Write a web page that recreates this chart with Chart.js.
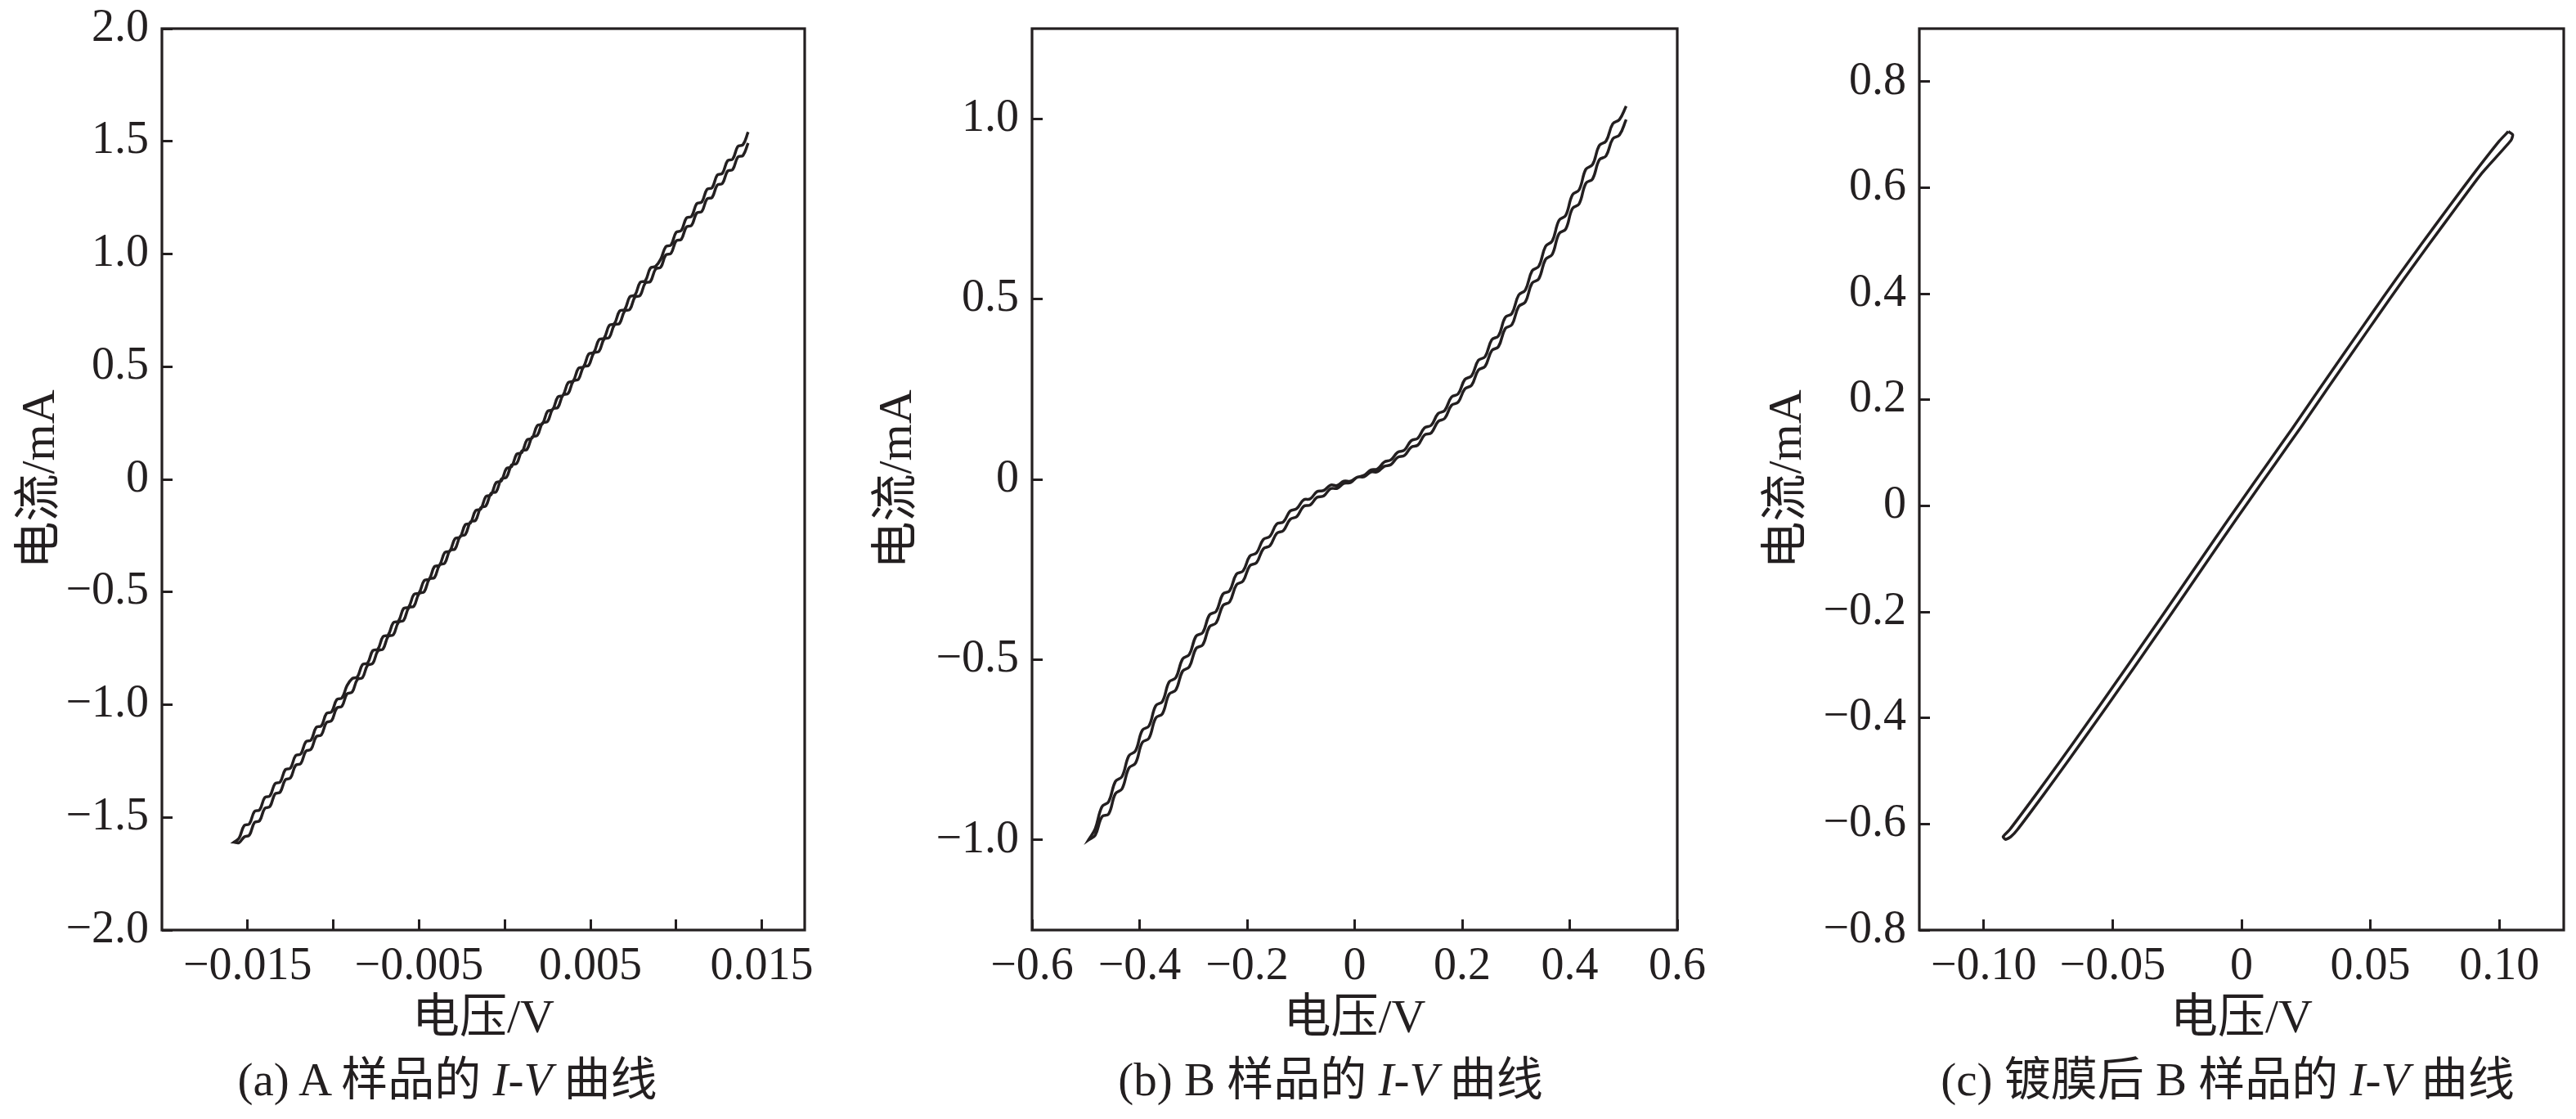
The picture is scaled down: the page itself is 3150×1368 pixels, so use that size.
<!DOCTYPE html>
<html>
<head>
<meta charset="utf-8">
<title>I-V 曲线</title>
<script src="https://cdn.jsdelivr.net/npm/chart.js@4.4.1/dist/chart.umd.min.js"></script>
<style>
  body { margin: 0; background: #fff; width: 3150px; height: 1368px; position: relative; overflow: hidden; }
  canvas { position: absolute; top: 0; }
  .cap { position: absolute; top: 1288px; font: 57px/64px "Liberation Serif", "Noto Sans CJK SC", serif; color: #231f20; white-space: nowrap; transform: translateX(-50%); }
</style>
</head>
<body>
<canvas id="chartA" width="1040" height="1368" style="left:0px"></canvas>
<canvas id="chartB" width="1050" height="1368" style="left:1060px"></canvas>
<canvas id="chartC" width="1000" height="1368" style="left:2150px"></canvas>
<div class="cap" style="left:547px">(a) A 样品的 <i>I</i>-<i>V</i> 曲线</div>
<div class="cap" style="left:1627px">(b) B 样品的 <i>I</i>-<i>V</i> 曲线</div>
<div class="cap" style="left:2724px">(c) 镀膜后 B 样品的 <i>I</i>-<i>V</i> 曲线</div>
<script>
// (a) sample A: sweep voltages (V) and current (mA) of both sweep directions
const aVolt = [
  -0.0158, -0.0155, -0.0152, -0.0149, -0.0146, -0.0143, -0.0140, -0.0137, -0.0134, -0.0131,
  -0.0128, -0.0125, -0.0122, -0.0119, -0.0116, -0.0113, -0.0110, -0.0107, -0.0104, -0.0101,
  -0.0098, -0.0095, -0.0092, -0.0089, -0.0086, -0.0083, -0.0080, -0.0077, -0.0074, -0.0071,
  -0.0068, -0.0065, -0.0062, -0.0059, -0.0056, -0.0053, -0.0050, -0.0047, -0.0044, -0.0041,
  -0.0038, -0.0035, -0.0032, -0.0029, -0.0026, -0.0023, -0.0020, -0.0017, -0.0014, -0.0011,
  -0.0008, -0.0005, -0.0002, 0.0001, 0.0004, 0.0007, 0.0010, 0.0013, 0.0016, 0.0019,
  0.0022, 0.0025, 0.0028, 0.0031, 0.0034, 0.0037, 0.0040, 0.0043, 0.0046, 0.0049,
  0.0052, 0.0055, 0.0058, 0.0061, 0.0064, 0.0067, 0.0070, 0.0073, 0.0076, 0.0079,
  0.0082, 0.0085, 0.0088, 0.0091, 0.0094, 0.0097, 0.0100, 0.0103, 0.0106, 0.0109,
  0.0112, 0.0115, 0.0118, 0.0121, 0.0124, 0.0127, 0.0130, 0.0133, 0.0136, 0.0139,
  0.0142
];
const aFwd = [
  -1.610, -1.612, -1.587, -1.579, -1.523, -1.515, -1.460, -1.452, -1.396, -1.388,
  -1.333, -1.325, -1.269, -1.261, -1.206, -1.198, -1.142, -1.134, -1.079, -1.071,
  -1.015, -1.007, -0.952, -0.944, -0.888, -0.880, -0.825, -0.817, -0.761, -0.753,
  -0.697, -0.690, -0.634, -0.626, -0.570, -0.563, -0.507, -0.499, -0.443, -0.436,
  -0.380, -0.372, -0.316, -0.309, -0.253, -0.245, -0.189, -0.182, -0.126, -0.118,
  -0.062, -0.055, 0.001, 0.009, 0.064, 0.071, 0.126, 0.133, 0.188, 0.195,
  0.250, 0.257, 0.312, 0.319, 0.374, 0.381, 0.436, 0.444, 0.499, 0.506,
  0.561, 0.568, 0.623, 0.630, 0.685, 0.692, 0.747, 0.754, 0.809, 0.816,
  0.871, 0.878, 0.933, 0.941, 0.996, 1.003, 1.058, 1.065, 1.120, 1.127,
  1.182, 1.189, 1.244, 1.251, 1.306, 1.313, 1.368, 1.375, 1.430, 1.437,
  1.492
];
const aRev = [
  -1.610, -1.592, -1.536, -1.529, -1.474, -1.467, -1.412, -1.405, -1.350, -1.343,
  -1.288, -1.281, -1.226, -1.219, -1.164, -1.157, -1.101, -1.094, -1.039, -1.032,
  -0.977, -0.970, -0.915, -0.884, -0.877, -0.822, -0.815, -0.760, -0.753, -0.698,
  -0.691, -0.636, -0.629, -0.573, -0.566, -0.511, -0.504, -0.449, -0.442, -0.387,
  -0.380, -0.325, -0.318, -0.263, -0.256, -0.201, -0.194, -0.139, -0.132, -0.076,
  -0.069, -0.014, -0.007, 0.048, 0.056, 0.112, 0.119, 0.175, 0.183, 0.239,
  0.246, 0.302, 0.310, 0.366, 0.373, 0.429, 0.437, 0.493, 0.500, 0.556,
  0.564, 0.620, 0.627, 0.683, 0.691, 0.747, 0.754, 0.810, 0.818, 0.874,
  0.881, 0.937, 0.945, 0.977, 1.033, 1.040, 1.096, 1.104, 1.160, 1.167,
  1.223, 1.231, 1.287, 1.294, 1.350, 1.358, 1.414, 1.421, 1.477, 1.485,
  1.541
];
const aXTicks = [-0.015, -0.01, -0.005, 0, 0.005, 0.01, 0.015];
const aXLabels = ['−0.015', '', '−0.005', '', '0.005', '', '0.015'];
const aYTicks = [-2, -1.5, -1, -0.5, 0, 0.5, 1, 1.5, 2];
const aYLabels = ['−2.0', '−1.5', '−1.0', '−0.5', '0', '0.5', '1.0', '1.5', '2.0'];

// (b) sample B
const bVolt = [
  -0.4950, -0.4825, -0.4700, -0.4575, -0.4450, -0.4325, -0.4200, -0.4075, -0.3950, -0.3825,
  -0.3700, -0.3575, -0.3450, -0.3325, -0.3200, -0.3075, -0.2950, -0.2825, -0.2700, -0.2575,
  -0.2450, -0.2325, -0.2200, -0.2075, -0.1950, -0.1825, -0.1700, -0.1575, -0.1450, -0.1325,
  -0.1200, -0.1075, -0.0950, -0.0825, -0.0700, -0.0575, -0.0450, -0.0325, -0.0200, -0.0075,
  0.0050, 0.0175, 0.0300, 0.0425, 0.0550, 0.0675, 0.0800, 0.0925, 0.1050, 0.1175,
  0.1300, 0.1425, 0.1550, 0.1675, 0.1800, 0.1925, 0.2050, 0.2175, 0.2300, 0.2425,
  0.2550, 0.2675, 0.2800, 0.2925, 0.3050, 0.3175, 0.3300, 0.3425, 0.3550, 0.3675,
  0.3800, 0.3925, 0.4050, 0.4175, 0.4300, 0.4425, 0.4550, 0.4675, 0.4800, 0.4925,
  0.5050
];
const bUp = [
  -1.000, -0.969, -0.908, -0.894, -0.838, -0.824, -0.767, -0.753, -0.696, -0.684,
  -0.628, -0.616, -0.562, -0.550, -0.498, -0.486, -0.435, -0.425, -0.376, -0.366,
  -0.318, -0.309, -0.263, -0.254, -0.213, -0.204, -0.167, -0.158, -0.124, -0.118,
  -0.088, -0.081, -0.057, -0.054, -0.034, -0.031, -0.016, -0.017, -0.005, -0.005,
  0.006, 0.011, 0.026, 0.029, 0.048, 0.054, 0.075, 0.081, 0.107, 0.114,
  0.143, 0.150, 0.182, 0.191, 0.228, 0.237, 0.277, 0.287, 0.330, 0.340,
  0.387, 0.398, 0.449, 0.460, 0.511, 0.525, 0.578, 0.591, 0.646, 0.661,
  0.718, 0.732, 0.789, 0.803, 0.860, 0.873, 0.926, 0.938, 0.986, 0.998,
  1.035
];
const bDn = [
  -1.000, -0.987, -0.936, -0.928, -0.872, -0.858, -0.801, -0.787, -0.730, -0.718,
  -0.662, -0.650, -0.596, -0.584, -0.532, -0.520, -0.469, -0.459, -0.409, -0.398,
  -0.350, -0.340, -0.293, -0.282, -0.240, -0.231, -0.193, -0.184, -0.150, -0.142,
  -0.111, -0.103, -0.075, -0.071, -0.050, -0.046, -0.026, -0.025, -0.011, -0.009,
  0.006, 0.007, 0.020, 0.021, 0.036, 0.041, 0.061, 0.066, 0.089, 0.095,
  0.123, 0.129, 0.160, 0.169, 0.205, 0.214, 0.251, 0.261, 0.303, 0.313,
  0.357, 0.368, 0.418, 0.429, 0.479, 0.492, 0.544, 0.556, 0.610, 0.624,
  0.681, 0.694, 0.751, 0.764, 0.821, 0.833, 0.886, 0.897, 0.944, 0.955,
  0.998
];
const bXTicks = [-0.6, -0.4, -0.2, 0, 0.2, 0.4, 0.6];
const bXLabels = ['−0.6', '−0.4', '−0.2', '0', '0.2', '0.4', '0.6'];
const bYTicks = [-1, -0.5, 0, 0.5, 1];
const bYLabels = ['−1.0', '−0.5', '0', '0.5', '1.0'];

// (c) sample B after coating
const cUpV = [0.1035, 0.100, 0.090, 0.080, 0.070, 0.060, 0.050, 0.040, 0.030, 0.020, 0.010,
  0.000, -0.010, -0.020, -0.030, -0.040, -0.050, -0.060, -0.070, -0.080, -0.090, -0.0925];
const cUpI = [0.706, 0.688, 0.626, 0.561, 0.495, 0.428, 0.359, 0.289, 0.219, 0.148, 0.079,
  0.010, -0.060, -0.131, -0.202, -0.272, -0.342, -0.411, -0.479, -0.546, -0.611, -0.624];
const cDnV = [-0.0915, -0.0895, -0.087, -0.077, -0.067, -0.057, -0.047, -0.037, -0.027, -0.017,
  -0.007, 0.003, 0.013, 0.023, 0.033, 0.043, 0.053, 0.063, 0.073, 0.083, 0.093, 0.1045, 0.1052];
const cDnI = [-0.629, -0.624, -0.611, -0.546, -0.479, -0.411, -0.342, -0.272, -0.202, -0.131,
  -0.060, 0.010, 0.079, 0.148, 0.219, 0.289, 0.359, 0.428, 0.495, 0.561, 0.626, 0.689, 0.700];
const cXTicks = [-0.1, -0.05, 0, 0.05, 0.1];
const cXLabels = ['−0.10', '−0.05', '0', '0.05', '0.10'];
const cYTicks = [-0.8, -0.6, -0.4, -0.2, 0, 0.2, 0.4, 0.6, 0.8];
const cYLabels = ['−0.8', '−0.6', '−0.4', '−0.2', '0', '0.2', '0.4', '0.6', '0.8'];

const INK = '#231f20';
const TICK_FONT = { family: '"Liberation Serif", serif', size: 56 };
const TITLE_FONT = { family: '"Liberation Serif", "Noto Sans CJK SC", serif', size: 58 };

const framePlugin = {
  id: 'frame',
  afterDatasetsDraw(chart) {
    const a = chart.chartArea;
    const ctx = chart.ctx;
    ctx.save();
    ctx.strokeStyle = INK;
    ctx.lineWidth = 3.2;
    ctx.strokeRect(a.left, a.top, a.right - a.left, a.bottom - a.top);
    ctx.restore();
  }
};

function axis(pos, min, max, ticks, labels, title, size) {
  return {
    type: 'linear',
    position: pos,
    min: min,
    max: max,
    afterBuildTicks: s => { s.ticks = ticks.map(v => ({ value: v })); },
    afterFit: s => {
      if (pos === 'left') s.width = size; else s.height = size;
      // keep the plot box where the layout padding puts it
      s.paddingTop = 0; s.paddingBottom = 0; s.paddingLeft = 0; s.paddingRight = 0;
    },
    ticks: {
      callback: (v, i) => labels[i],
      font: TICK_FONT,
      color: INK,
      padding: pos === 'left' ? 29 : 25,
      autoSkip: false,
      maxRotation: 0
    },
    grid: { drawOnChartArea: false, drawTicks: true, tickLength: -13, tickWidth: 3, tickColor: INK, color: INK, lineWidth: 3 },
    border: { display: false },
    title: { display: true, text: title, font: TITLE_FONT, color: INK, padding: 0 }
  };
}

function loop(voltsA, currA, voltsB, currB, reverseFirst) {
  const pts = [];
  if (reverseFirst) {
    for (let k = voltsA.length - 1; k >= 0; k--) pts.push({ x: voltsA[k], y: currA[k] });
  } else {
    for (let k = 0; k < voltsA.length; k++) pts.push({ x: voltsA[k], y: currA[k] });
  }
  for (let k = 0; k < voltsB.length; k++) pts.push({ x: voltsB[k], y: currB[k] });
  return pts;
}

function createPanel(canvasId, pts, tension, xScale, yScale, padding) {
  const ctx = document.getElementById(canvasId).getContext('2d');
  new Chart(ctx, {
    type: 'scatter',
    data: {
      datasets: [{
        data: pts,
        showLine: true,
        borderColor: INK,
        borderWidth: 3.5,
        pointRadius: 0,
        tension: tension,
        fill: false
      }]
    },
    options: {
      responsive: false,
      animation: false,
      layout: { padding: padding },
      plugins: { legend: { display: false }, tooltip: { enabled: false } },
      scales: { x: xScale, y: yScale }
    },
    plugins: [framePlugin]
  });
}

const aPts = loop(aVolt, aRev, aVolt, aFwd, true);
const bPts = loop(bVolt, bUp, bVolt, bDn, true);
const cPts = loop(cUpV, cUpI, cDnV, cDnI, false);
cPts.push(cPts[0]);

createPanel('chartA', aPts, 0.4,
  axis('bottom', -0.02, 0.0175, aXTicks, aXLabels, '电压/V', 145),
  axis('left', -2, 2, aYTicks, aYLabels, '电流/mA', 182),
  { left: 16, right: 56, top: 35, bottom: 86 });
createPanel('chartB', bPts, 0.4,
  axis('bottom', -0.6, 0.6, bXTicks, bXLabels, '电压/V', 145),
  axis('left', -1.25, 1.25, bYTicks, bYLabels, '电流/mA', 198),
  { left: 4, right: 59, top: 35, bottom: 86 });
createPanel('chartC', cPts, 0.2,
  axis('bottom', -0.125, 0.125, cXTicks, cXLabels, '电压/V', 145),
  axis('left', -0.8, 0.9, cYTicks, cYLabels, '电流/mA', 195),
  { left: 2, right: 15, top: 35, bottom: 86 });
</script>
</body>
</html>
